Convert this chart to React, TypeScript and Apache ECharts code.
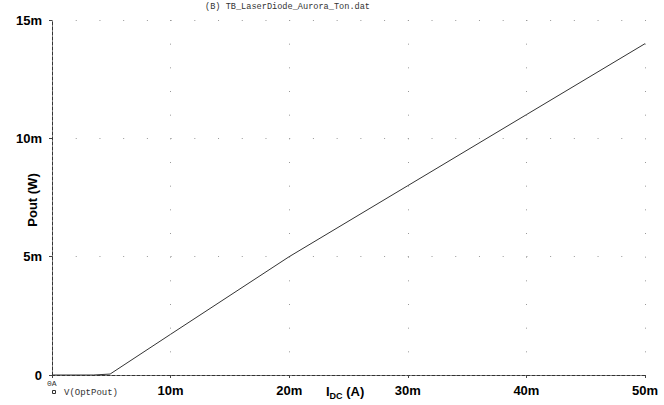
import React, { useEffect, useRef } from "react";
import * as echarts from "echarts";

const currentMA: number[] = [0, 3.5, 4.9, 10, 20, 30, 40, 50];
const poutMW: number[] = [0, 0, 0.04, 1.72, 5.0, 8.0, 11.0, 14.0];
const xTickLabels: string[] = ["", "10m", "20m", "30m", "40m", "50m"];
const yTickLabels: string[] = ["0", "5m", "10m", "15m"];
const title = "(B) TB_LaserDiode_Aurora_Ton.dat";
const seriesName = "V(OptPout)";
const xAxisName = "{i|I}{s|DC}{i| (A)}";
const yAxisName = "Pout (W)";

const W = 664;
const H = 405;
const G = { left: 52, right: 19, top: 20, bottom: 30 };

export default function App() {
  const ref = useRef<HTMLDivElement>(null);
  useEffect(() => {
    if (!ref.current) return;
    const chart = echarts.init(ref.current, undefined, { renderer: "svg" });
    const pw = W - G.left - G.right;
    const ph = H - G.top - G.bottom;
    const xGap = pw / 25; // dots every 2mA
    const yGap = ph / 15; // dots every 1mW
    const border = { show: true, lineStyle: { color: "#333", width: 1, type: [3, 2] as any } };
    const labelFont = { fontFamily: "Liberation Sans", fontWeight: "bold" as const, fontSize: 13, color: "#000" };
    chart.setOption({
      animation: false,
      backgroundColor: "#fff",
      grid: {
        left: G.left,
        right: G.right,
        top: G.top,
        bottom: G.bottom,
        containLabel: false,
        outerBoundsMode: "none",
      },
      xAxis: [
        {
          type: "value",
          min: 0,
          max: 50,
          interval: 10,
          position: "bottom",
          axisLine: border,
          axisTick: { show: true, length: 3, inside: false, lineStyle: { color: "#444" } },
          axisLabel: {
            ...labelFont,
            margin: 9,
            formatter: (v: number) => xTickLabels[Math.round(v / 10)] ?? "",
          },
          splitLine: {
            show: true,
            lineStyle: { color: "#999", width: 1, type: [1, yGap - 1] as any },
          },
        },
        {
          type: "value",
          min: 0,
          max: 50,
          interval: 10,
          position: "top",
          axisLine: border,
          axisTick: { show: false },
          axisLabel: { show: false },
          splitLine: { show: false },
        },
      ],
      yAxis: [
        {
          type: "value",
          min: 0,
          max: 15,
          interval: 5,
          position: "left",
          axisLine: border,
          axisTick: { show: true, length: 3, lineStyle: { color: "#444" } },
          axisLabel: {
            ...labelFont,
            margin: 10,
            formatter: (v: number) => yTickLabels[Math.round(v / 5)] ?? "",
          },
          splitLine: {
            show: true,
            lineStyle: { color: "#999", width: 1, type: [1, xGap - 1] as any },
          },
        },
        {
          type: "value",
          min: 0,
          max: 15,
          interval: 5,
          position: "right",
          axisLine: border,
          axisTick: { show: false },
          axisLabel: { show: false },
          splitLine: { show: false },
        },
      ],
      series: [
        {
          name: seriesName,
          type: "line",
          data: currentMA.map((x, i) => [x, poutMW[i]]),
          showSymbol: false,
          lineStyle: { color: "#333", width: 1 },
          z: 5,
        },
      ],
      graphic: [
        {
          type: "text",
          left: 205,
          top: 2,
          style: { text: title, fontFamily: "Liberation Mono", fontSize: 8.6, fill: "#333" },
        },
        {
          type: "text",
          x: 32,
          y: 200,
          rotation: Math.PI / 2,
          style: {
            text: yAxisName,
            align: "center",
            verticalAlign: "middle",
            fontFamily: "Liberation Sans",
            fontWeight: "bold",
            fontSize: 13,
            fill: "#000",
          },
        },
        {
          type: "text",
          x: 326,
          y: 383,
          style: {
            text: xAxisName,
            fill: "#000",
            rich: {
              i: { fontFamily: "Liberation Sans", fontWeight: "bold", fontSize: 13, fill: "#000" },
              s: { fontFamily: "Liberation Sans", fontWeight: "bold", fontSize: 9, fill: "#000", padding: [8, 0, 0, 0] },
            },
          },
        },
        {
          type: "text",
          left: 47,
          top: 379,
          style: { text: "0A", fontFamily: "Liberation Mono", fontSize: 8, fill: "#333" },
        },
        {
          type: "rect",
          shape: { x: 52.5, y: 390.5, width: 3, height: 3 },
          style: { fill: "none", stroke: "#333", lineWidth: 1 },
        },
        {
          type: "text",
          left: 64,
          top: 388,
          style: { text: seriesName, fontFamily: "Liberation Mono", fontSize: 9, fill: "#333" },
        },
      ],
    });
    return () => chart.dispose();
  }, []);
  return <div ref={ref} style={{ width: W, height: H, position: "absolute", left: 0, top: 0 }} />;
}
